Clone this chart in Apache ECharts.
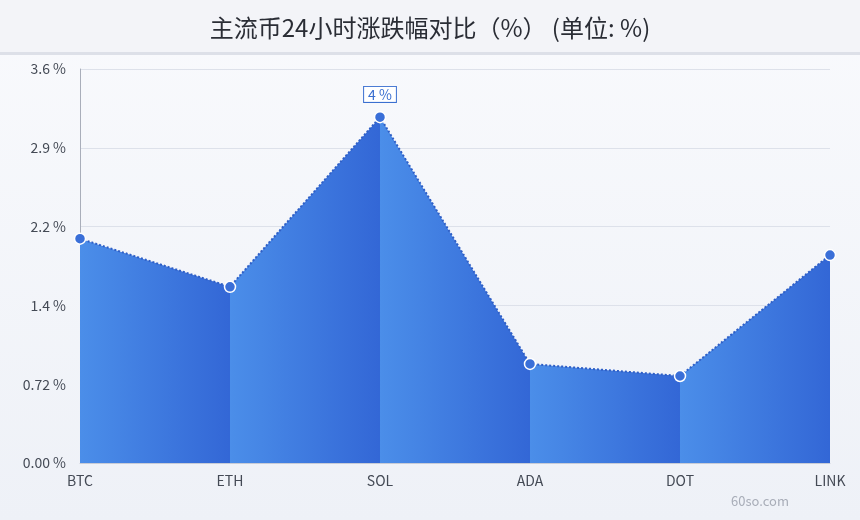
<!DOCTYPE html>
<html>
<head>
<meta charset="utf-8">
<script src="https://cdn.jsdelivr.net/npm/echarts@6/dist/echarts.min.js"></script>
<style>
html,body{margin:0;padding:0;}
#c{width:860px;height:520px;}
</style>
</head>
<body>
<div id="c"></div>
<script>
const categories = ['BTC', 'ETH', 'SOL', 'ADA', 'DOT', 'LINK'];
const changes = [2.05, 1.61, 3.16, 0.905, 0.795, 1.90];
const labelledIndex = 2;
const titleText = '主流币24小时涨跌幅对比（%） (单位: %)';
const watermark = '60so.com';

const FONT = '"Noto Sans CJK SC", "Noto Sans", sans-serif';
const n = categories.length - 1;
const stops = [];
for (let i = 0; i < n; i++) {
  stops.push({offset: i / n, color: '#4b8ee9'});
  stops.push({offset: (i + 1) / n - 0.0005, color: '#3367d6'});
}

const chart = echarts.init(document.getElementById('c'));
chart.setOption({
  backgroundColor: new echarts.graphic.LinearGradient(0, 0, 0, 1, [
    {offset: 0, color: '#f9fafd'}, {offset: 1, color: '#eef1f7'}
  ]),
  graphic: [
    {type: 'rect', left: 0, top: 0, shape: {width: 860, height: 52}, style: {fill: '#f3f4f8'}, z: -1},
    {type: 'rect', left: 0, top: 52, shape: {width: 860, height: 3}, style: {fill: '#dde0e8'}, z: -1},
    {type: 'text', left: 731, top: 495, style: {text: watermark, fill: '#a8adb8', font: '13px "Noto Sans CJK SC", sans-serif'}}
  ],
  title: {
    text: titleText,
    left: 'center',
    top: 11,
    textStyle: {fontFamily: FONT, fontSize: 24, fontWeight: 'normal', color: '#2a2d35'}
  },
  grid: {left: 80, right: 30, top: 69, bottom: 57},
  xAxis: {
    type: 'category',
    data: categories,
    boundaryGap: false,
    axisLine: {show: true, lineStyle: {color: '#c8ccd6'}},
    axisTick: {show: false},
    axisLabel: {color: '#444a55', fontSize: 14, fontFamily: FONT, margin: 11}
  },
  yAxis: {
    type: 'value',
    min: 0, max: 3.6, interval: 0.72,
    axisLine: {show: true, lineStyle: {color: '#a9aeba'}},
    axisTick: {show: false},
    splitLine: {lineStyle: {color: '#dde1ea'}},
    axisLabel: {
      color: '#444a55', fontSize: 14, fontFamily: FONT, margin: 14,
      formatter: v => v === 0 ? '0.00 %' : Number(v.toPrecision(2)) + ' %'
    }
  },
  series: [{
    type: 'line',
    data: changes.map((v, i) => i === labelledIndex ? {
      value: v,
      label: {
        show: true, position: 'top', distance: 9,
        formatter: p => Math.ceil(p.value) + ' %',
        color: '#3a6fd0', fontSize: 14, fontFamily: FONT,
        borderColor: '#3a6fd0', borderWidth: 1, padding: [1, 4, 0, 4], backgroundColor: '#ffffff'
      }
    } : v),
    symbol: 'circle',
    symbolSize: 11,
    itemStyle: {color: '#3a6fd8', borderColor: '#ffffff', borderWidth: 1.5},
    lineStyle: {color: '#2f5fc6', width: 2, type: 'dotted'},
    areaStyle: {color: new echarts.graphic.LinearGradient(0, 0, 1, 0, stops), opacity: 1},
    animation: false
  }]
});
</script>
</body>
</html>
